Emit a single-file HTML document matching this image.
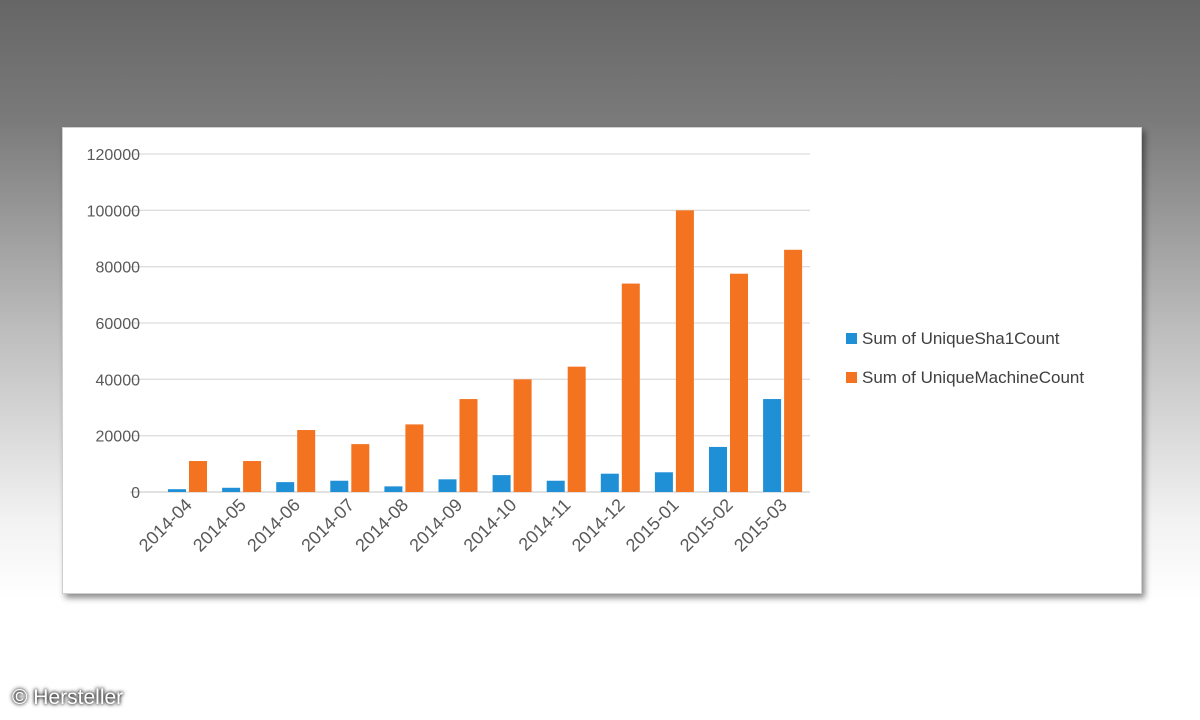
<!DOCTYPE html>
<html><head><meta charset="utf-8"><style>
body{margin:0;width:1200px;height:720px;overflow:hidden;font-family:"Liberation Sans",sans-serif;
background:linear-gradient(#666 0px,#7a7a7a 120px,#bdbdbd 330px,#f2f2f2 520px,#fff 600px);}
#panel{position:absolute;left:62px;top:127px;width:1078px;height:465px;background:#fff;border:1px solid #cfcfcf;box-shadow:3px 4px 6px rgba(0,0,0,0.45);}
#copy{position:absolute;left:12px;top:686px;font-size:21px;color:#fff;text-shadow:0 0 3px #000,0 0 5px #333;}
</style></head><body>
<div id="panel"></div>
<svg id="chart" width="1200" height="720" style="position:absolute;left:0;top:0"></svg>
<div id="copy">© Hersteller</div>
<script>
const categories=["2014-04","2014-05","2014-06","2014-07","2014-08","2014-09","2014-10","2014-11","2014-12","2015-01","2015-02","2015-03"];
const sha1=[1000,1500,3500,4000,2000,4500,6000,4000,6500,7000,16000,33000];
const machine=[11000,11000,22000,17000,24000,33000,40000,44500,74000,100000,77500,86000];
const yTicks=[0,20000,40000,60000,80000,100000,120000];
const seriesNames=["Sum of UniqueSha1Count","Sum of UniqueMachineCount"];
const NS="http://www.w3.org/2000/svg",svg=document.getElementById('chart');
const y=v=>492-v*(338/120000);
const x0=160,step=54.1,bw=18;
function mk(t,a,txt){const e=document.createElementNS(NS,t);for(const k in a)e.setAttribute(k,a[k]);if(txt!==undefined)e.textContent=txt;svg.appendChild(e);return e;}
yTicks.forEach(v=>{
 const l=mk('line',{x1:130,x2:810,y1:y(v),y2:y(v),stroke:v===0?'#cfcfcf':'#dedede','stroke-width':1.3});
 
 
 const t=mk('text',{x:140,y:y(v)+6,'text-anchor':'end','font-size':16,fill:'#595959'},String(v));
 
 
});
categories.forEach((c,i)=>{
 const bx=x0+step*i+8;
 const b1=mk('rect',{x:bx,y:y(sha1[i]),width:bw,height:492-y(sha1[i]),fill:'#1f8fd6'});
 
 
 const b2=mk('rect',{x:bx+21,y:y(machine[i]),width:bw,height:492-y(machine[i]),fill:'#f47321'});
 
 
 const cx=bx+25;
 const t=mk('text',{x:cx,y:506,'text-anchor':'end','font-size':18,fill:'#595959',transform:`rotate(-45 ${cx} 506)`},c);
 
 
});
const colors=['#1f8fd6','#f47321'];
seriesNames.forEach((n,i)=>{
 const yy=338+i*39;
 const s=mk('rect',{x:846,y:yy-5,width:11,height:11,fill:colors[i]});
 
 
 const t=mk('text',{x:862,y:yy+6,'font-size':17,fill:'#404040'},n);
 
 
});
</script>
</body></html>
